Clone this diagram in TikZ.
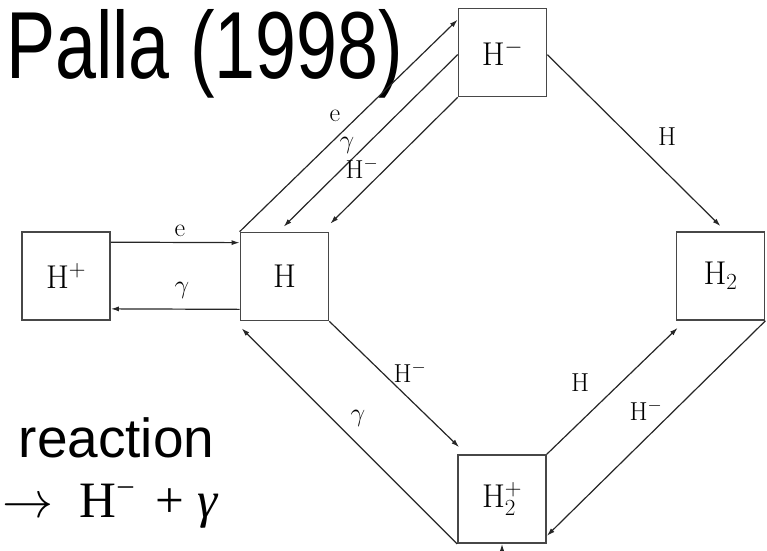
\RequirePackage{fix-cm}
\documentclass[tikz,border=0pt]{standalone}
\usepackage{fontspec}
\usepackage{graphicx}
\newfontfamily\arialf{Liberation Sans}
\newfontfamily\timesf{Liberation Serif}
\usetikzlibrary{arrows.meta,calc}
\begin{document}
\begin{tikzpicture}[x=1pt,y=-1pt,
  box/.style={draw=black!72, line width=1.7pt, minimum width=88pt, minimum height=88pt, inner sep=0pt, font=\fontsize{33}{33}\selectfont},
  arr/.style={draw=black!85, line width=1.2pt, -{Latex[length=8pt,width=5pt]}},
  lbl/.style={font=\fontsize{26}{26}\selectfont, inner sep=0pt}]
\useasboundingbox (0,0) rectangle (767,550);
\begin{scope}
\clip (0,0) rectangle (767,550);
% title and side text
\node[anchor=base west, inner sep=0pt] (title) at (6,78) {\resizebox{397pt}{69pt}{\arialf Palla (1998)}};
\node[anchor=base west, inner sep=0pt] (rx) at (18.5,457) {\arialf\fontsize{55}{55}\selectfont reaction};
\node[anchor=base west, inner sep=0pt] (eq) at (2,517) {\timesf\fontsize{51}{51}\selectfont $\rightarrow$\hspace{26pt}H\hspace{2pt}\raisebox{23pt}{\fontsize{30}{30}\selectfont –}\hspace{22pt}+\hspace{14pt}\textit{γ}};
% boxes
\node[box] (Hp)  at (66,276)    {$\mathrm{H}^{+}$};
\node[box] (H)   at (284.5,276.5) {$\mathrm{H}$};
\node[box] (Hm)  at (502.5,52.5) {$\mathrm{H}^{-}$};
\node[box] (H2)  at (720.5,276) {$\mathrm{H}_2$};
\node[box] (H2p) at (502,499)   {$\mathrm{H}_2^{+}$};
% connectors
\draw[arr] ([yshift=-11pt]Hp.north east) -- ([yshift=-11pt]H.north west);
\draw[arr] ([yshift=12pt]H.south west) -- ([yshift=12pt]Hp.south east);
\draw[arr] (H.north west) -- ([yshift=-12pt]Hm.north west);
\draw[arr] ([yshift=-47pt]Hm.north west) -- ([xshift=44pt,yshift=5pt]H.north west);
\draw[arr] (Hm.south west) -- ([xshift=1pt,yshift=8pt]H.north east);
\draw[arr] ([yshift=-47pt]Hm.north east) -- ([yshift=5pt]H2.north);
\draw[arr] (H.south east) -- ([xshift=2pt,yshift=7pt]H2p.north west);
\draw[arr] (H2p.south west) -- ([xshift=2pt,yshift=-7pt]H.south west);
\draw[arr] (H2p.north east) -- ([xshift=2pt,yshift=-7pt]H2.south west);
\draw[arr] (H2.south east) -- ([yshift=8pt]H2p.south east);
\coordinate (below) at (502,575);
\draw[arr] (below) -- (H2p.south);
% labels
\node[lbl] (l1) at (180,231) {e};
\node[lbl] (l2) at (182,290) {$\gamma$};
\node[lbl] (l3) at (335,116) {e};
\node[lbl] (l4) at (347,145) {$\gamma$};
\node[lbl] (l5) at (362,168) {$\mathrm{H}^{-}$};
\node[lbl] (l6) at (667,137) {H};
\node[lbl] (l7) at (410,372) {$\mathrm{H}^{-}$};
\node[lbl] (l8) at (358,418) {$\gamma$};
\node[lbl] (l9) at (580,383) {H};
\node[lbl] (l10) at (646,410) {$\mathrm{H}^{-}$};
\end{scope}
\end{tikzpicture}
\end{document}
